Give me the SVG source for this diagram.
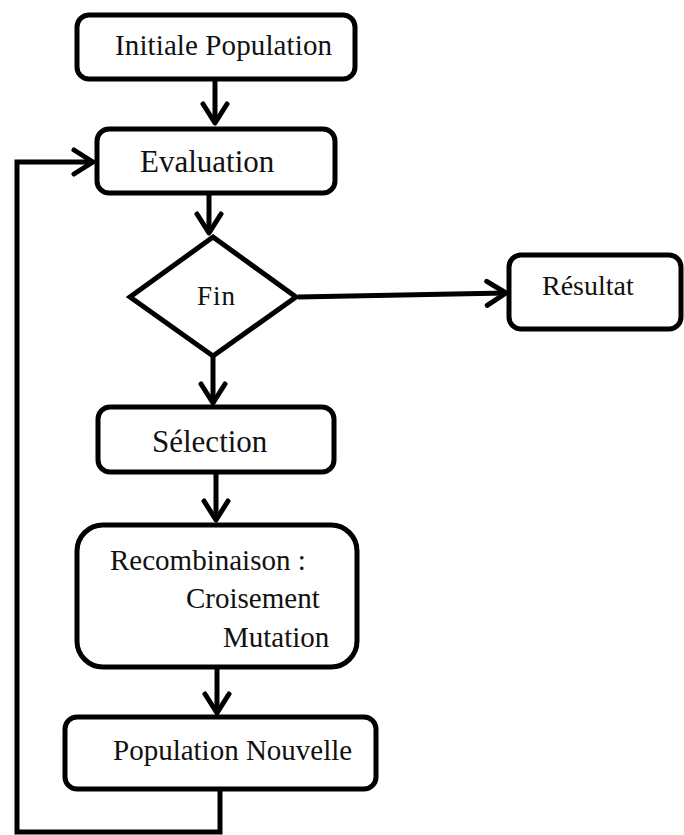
<svg xmlns="http://www.w3.org/2000/svg" width="684" height="835" viewBox="0 0 684 835">
  <style>
    .box { fill: #fff; stroke: #000; stroke-width: 5; }
    .lbl { font-family: "Liberation Serif", "Times New Roman", serif; fill: #111; }
    .edge { fill: none; stroke: #000; stroke-width: 5; stroke-linejoin: miter; }
  </style>
  <defs>
    <marker id="chev" markerUnits="userSpaceOnUse" markerWidth="40" markerHeight="40" viewBox="-25 -20 30 40" refX="0" refY="0" orient="auto" overflow="visible">
      <path d="M-19,-12 L0,0 L-19,12" fill="none" stroke="#000" stroke-width="5" stroke-linejoin="round" stroke-linecap="round"/>
    </marker>
  </defs>
  <rect width="684" height="835" fill="#fff"/>

  <g id="connectors">
    <line class="edge" x1="215" y1="80" x2="215" y2="123" marker-end="url(#chev)"/>
    <line class="edge" x1="209" y1="194" x2="209" y2="233" marker-end="url(#chev)"/>
    <line class="edge" x1="298" y1="297" x2="506" y2="293" marker-end="url(#chev)"/>
    <line class="edge" x1="213" y1="357" x2="213" y2="403" marker-end="url(#chev)"/>
    <line class="edge" x1="216" y1="473" x2="216" y2="520" marker-end="url(#chev)"/>
    <line class="edge" x1="217" y1="668" x2="217" y2="713" marker-end="url(#chev)"/>
    <polyline class="edge" points="220,789 220,832 17,832 17,162 93,162" marker-end="url(#chev)"/>
  </g>

  <g id="initiale-population">
    <rect class="box" x="77" y="15" width="278" height="64" rx="12"/>
    <text class="lbl" x="115" y="55" font-size="29" textLength="217">Initiale Population</text>
  </g>

  <g id="evaluation">
    <rect class="box" x="97" y="129" width="238" height="64" rx="12"/>
    <text class="lbl" x="140" y="172" font-size="31">Evaluation</text>
  </g>

  <g id="fin">
    <polygon class="box" points="213,237 296,297 213,356 130,297"/>
    <text class="lbl" x="197" y="305" font-size="27" letter-spacing="1">Fin</text>
  </g>

  <g id="resultat">
    <rect class="box" x="509" y="255" width="172" height="74" rx="12"/>
    <text class="lbl" x="542" y="295" font-size="28">Résultat</text>
  </g>

  <g id="selection">
    <rect class="box" x="98" y="407" width="236" height="65" rx="12"/>
    <text class="lbl" x="152" y="452" font-size="31">Sélection</text>
  </g>

  <g id="recombinaison">
    <rect class="box" x="77" y="525" width="280" height="142" rx="26"/>
    <text class="lbl" x="110" y="570" font-size="29">Recombinaison :</text>
    <text class="lbl" x="186" y="608" font-size="29">Croisement</text>
    <text class="lbl" x="223" y="647" font-size="29">Mutation</text>
  </g>

  <g id="population-nouvelle">
    <rect class="box" x="65" y="717" width="311" height="72" rx="12"/>
    <text class="lbl" x="113" y="760" font-size="29">Population Nouvelle</text>
  </g>
</svg>
